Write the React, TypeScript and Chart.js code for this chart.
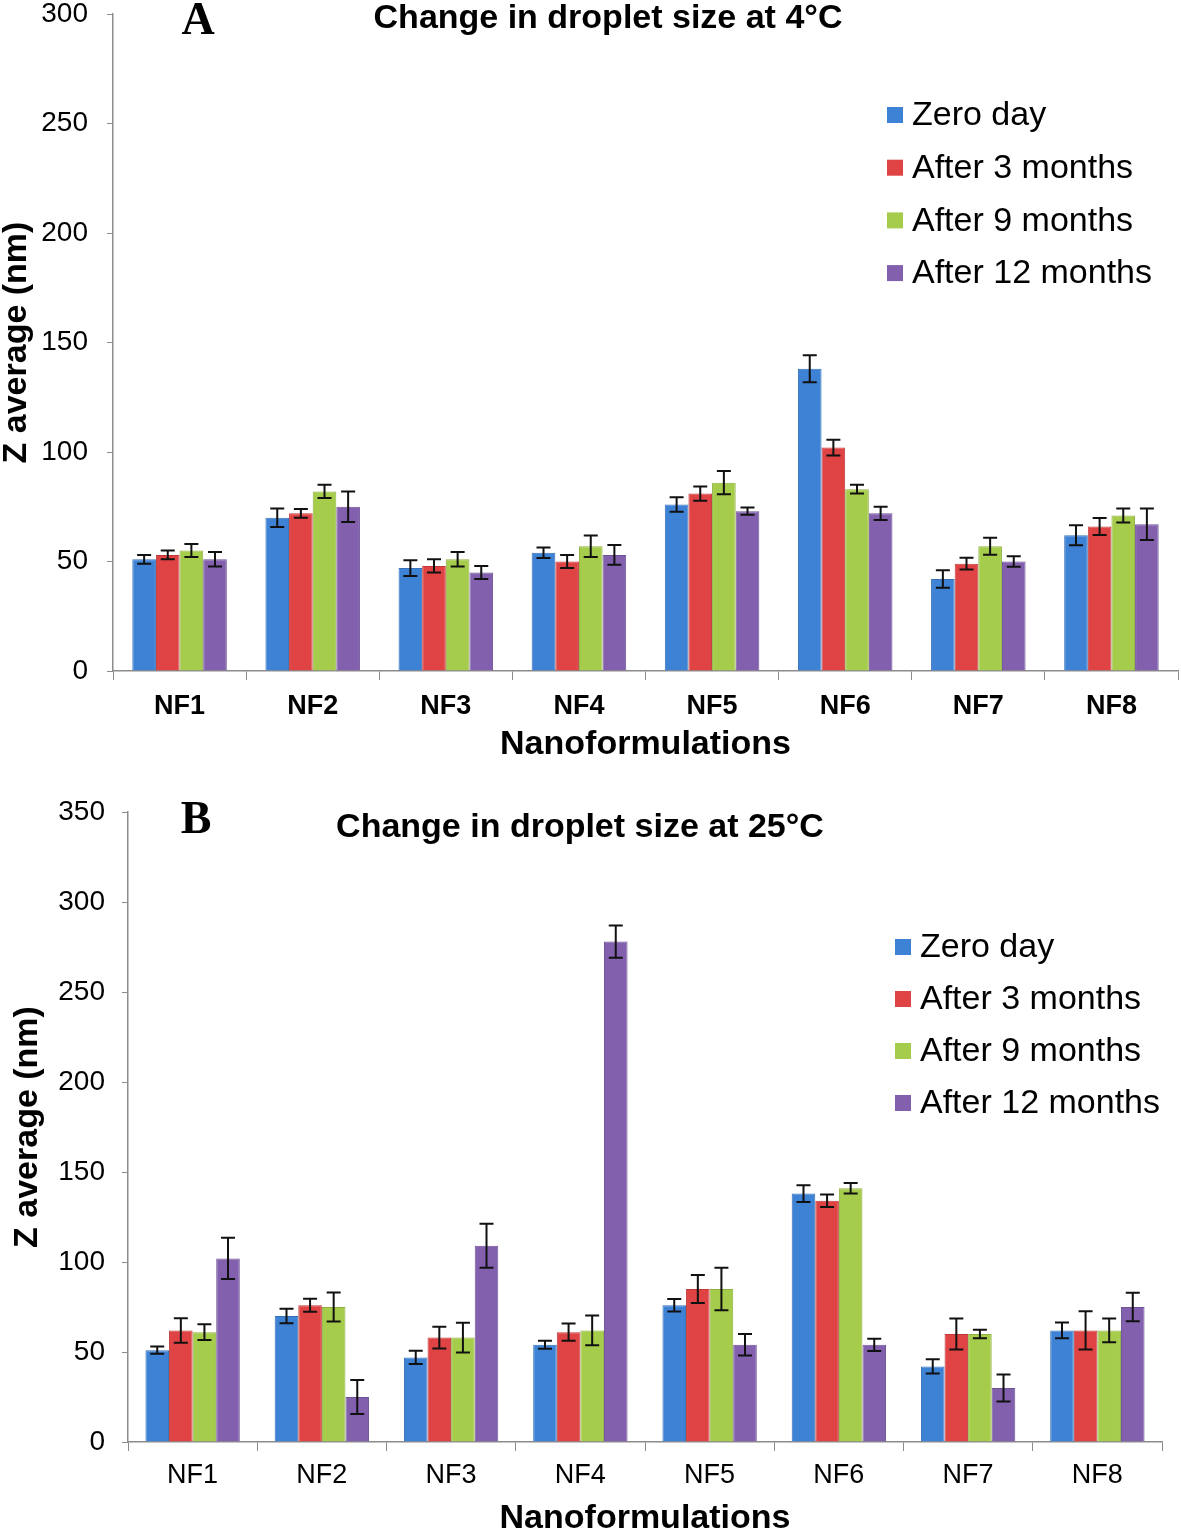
import React, { useEffect, useRef } from "react";
import { Chart, registerables } from "chart.js";

Chart.register(...registerables);

// ---------- data ----------
const categories = ["NF1", "NF2", "NF3", "NF4", "NF5", "NF6", "NF7", "NF8"];
const seriesLabels = ["Zero day", "After 3 months", "After 9 months", "After 12 months"];
const seriesColors = ["#3E82D6", "#E04343", "#A5CC4A", "#8260AE"];
const seriesBorders = ["#3570B8", "#C03A3A", "#8FB040", "#6E5296"];

// Panel A: 4 °C
const zeroDayA = [51, 70, 47, 54, 76, 138, 42, 62];
const month3A = [53, 72, 48, 50, 81, 102, 49, 66];
const month9A = [55, 82, 51, 57, 86, 83, 57, 71];
const month12A = [51, 75, 45, 53, 73, 72, 50, 67];
const zeroDayAErr = [2, 4.2, 3.6, 2.4, 3.3, 6.2, 4, 4.6];
const month3AErr = [2, 2, 3, 3, 3.3, 3.6, 2.7, 3.9];
const month9AErr = [3, 3, 3.3, 4.9, 5.3, 2, 3.9, 3.2];
const month12AErr = [3.3, 7, 3, 4.5, 1.7, 3, 2.4, 7.2];
const yMaxA = 300;

// Panel B: 25 °C
const zeroDayB = [51, 70, 47, 54, 76, 138, 42, 62];
const month3B = [62, 76, 58, 61, 85, 134, 60, 62];
const month9B = [61, 75, 58, 62, 85, 141, 60, 62];
const month12B = [102, 25, 109, 278, 54, 54, 30, 75];
const zeroDayBErr = [2, 4, 3.7, 2.2, 3.5, 4.7, 4, 4.4];
const month3BErr = [6.8, 3.6, 6, 4.8, 7.8, 3.5, 8.6, 10.6];
const month9BErr = [4.4, 8, 8.3, 8.3, 11.8, 2.9, 2.3, 6.6];
const month12BErr = [11.5, 9.4, 12.2, 9, 6, 3.4, 7.5, 7.9];
const yMaxB = 350;

const yStep = 50;
const titleA = "Change in droplet size at 4°C";
const titleB = "Change in droplet size at 25°C";
const yTitle = "Z average (nm)";
const xTitle = "Nanoformulations";

const SANS = "'Liberation Sans', Arial, sans-serif";
const SERIF = "'Liberation Serif', 'Times New Roman', serif";
const AXIS_GRAY = "#8c8c8c";

// ---------- plugin: error bars, title, panel letter, legend ----------
const decorPlugin = {
  id: "decor",
  afterDatasetsDraw(chart: any) {
    const ctx = chart.ctx;
    const yScale = chart.scales.y;
    ctx.save();
    ctx.strokeStyle = "#111";
    ctx.lineWidth = 2;
    chart.data.datasets.forEach((ds: any, i: number) => {
      const meta = chart.getDatasetMeta(i);
      meta.data.forEach((bar: any, j: number) => {
        const v = ds.data[j];
        const e = ds.errors[j];
        const x = bar.x;
        const yt = yScale.getPixelForValue(v + e);
        const yb = yScale.getPixelForValue(v - e);
        const cap = 7;
        ctx.beginPath();
        ctx.moveTo(x, yt);
        ctx.lineTo(x, yb);
        ctx.moveTo(x - cap, yt);
        ctx.lineTo(x + cap, yt);
        ctx.moveTo(x - cap, yb);
        ctx.lineTo(x + cap, yb);
        ctx.stroke();
      });
    });
    ctx.restore();
  },
  afterDraw(chart: any, _args: any, opts: any) {
    const ctx = chart.ctx;
    ctx.save();
    // title
    ctx.fillStyle = "#000";
    ctx.textAlign = "center";
    ctx.textBaseline = "middle";
    ctx.font = `bold 34px ${SANS}`;
    ctx.fillText(opts.title, opts.titleX, opts.titleY);
    // panel letter
    ctx.font = `bold 46px ${SERIF}`;
    ctx.fillText(opts.letter, opts.letterX, opts.letterY);
    // legend
    ctx.textAlign = "left";
    ctx.font = `34px ${SANS}`;
    chart.data.datasets.forEach((ds: any, i: number) => {
      const cy = opts.legendY + i * opts.legendGap;
      ctx.fillStyle = ds.backgroundColor;
      ctx.fillRect(opts.legendX, cy - 8, 16, 16);
      ctx.fillStyle = "#000";
      ctx.fillText(ds.label, opts.legendX + 25, cy + 1);
    });
    ctx.restore();
  },
};

function buildDatasets(values: number[][], errors: number[][], catPct: number) {
  return values.map((vals, i) => ({
    label: seriesLabels[i],
    data: vals,
    errors: errors[i],
    backgroundColor: seriesColors[i],
    borderColor: seriesBorders[i],
    borderWidth: 1,
    barPercentage: 1,
    categoryPercentage: catPct,
  }));
}

type PanelProps = {
  top: number;
  height: number;
  values: number[][];
  errors: number[][];
  yMax: number;
  catPct: number;
  axisLeft: number;
  padRight: number;
  padTop: number;
  xAxisHeight: number;
  yTickPad: number;
  yTitlePad: number;
  xTickPad: number;
  xTickBold: boolean;
  xTitlePadBottom: number;
  decor: any;
};

function Panel(p: PanelProps) {
  const ref = useRef<HTMLCanvasElement | null>(null);
  useEffect(() => {
    if (!ref.current) return;
    const chart = new Chart(ref.current, {
      type: "bar",
      data: {
        labels: categories,
        datasets: buildDatasets(p.values, p.errors, p.catPct) as any,
      },
      options: {
        animation: false,
        responsive: false,
        devicePixelRatio: 1,
        layout: { padding: { left: 0, right: p.padRight, top: p.padTop, bottom: 0 } },
        plugins: {
          legend: { display: false },
          tooltip: { enabled: false },
          title: { display: false },
          decor: p.decor,
        } as any,
        scales: {
          x: {
            offset: true,
            grid: {
              offset: true,
              drawOnChartArea: false,
              drawTicks: true,
              tickLength: 9,
              color: AXIS_GRAY,
            },
            border: { color: AXIS_GRAY, width: 1.5 },
            ticks: {
              color: "#000",
              padding: p.xTickPad,
              font: { family: SANS, size: 27, weight: p.xTickBold ? "bold" : "normal" },
              maxRotation: 0,
            },
            title: {
              display: true,
              text: xTitle,
              color: "#000",
              font: { family: SANS, size: 34, weight: "bold", lineHeight: 1 },
              padding: { top: 0, bottom: p.xTitlePadBottom },
            },
            afterFit: (scale: any) => {
              scale.height = p.xAxisHeight;
              scale.paddingLeft = 0;
              scale.paddingRight = 0;
            },
          },
          y: {
            min: 0,
            max: p.yMax,
            ticks: {
              stepSize: yStep,
              color: "#000",
              padding: p.yTickPad,
              font: { family: SANS, size: 28, lineHeight: 1 },
            },
            grid: {
              drawOnChartArea: false,
              drawTicks: true,
              tickLength: 6,
              color: AXIS_GRAY,
            },
            border: { color: AXIS_GRAY, width: 1.5 },
            title: {
              display: true,
              text: yTitle,
              color: "#000",
              font: { family: SANS, size: 34, weight: "bold", lineHeight: 1 },
              padding: { top: p.yTitlePad, bottom: 0 },
            },
            afterFit: (scale: any) => {
              scale.width = p.axisLeft;
              scale.paddingTop = 0;
              scale.paddingBottom = 0;
            },
          },
        },
      },
      plugins: [decorPlugin as any],
    });
    return () => chart.destroy();
  }, []);
  return (
    <canvas
      ref={ref}
      width={1181}
      height={p.height}
      style={{ position: "absolute", left: 0, top: p.top, width: 1181, height: p.height, display: "block" }}
    />
  );
}

export default function App() {
  return (
    <div style={{ position: "absolute", left: 0, top: 0, width: 1181, height: 1536, background: "#fff", overflow: "hidden" }}>
      <Panel
        top={0}
        height={770}
        values={[zeroDayA, month3A, month9A, month12A]}
        errors={[zeroDayAErr, month3AErr, month9AErr, month12AErr]}
        yMax={yMaxA}
        catPct={0.71}
        axisLeft={113}
        padRight={3}
        padTop={14}
        xAxisHeight={99}
        yTickPad={19}
        yTitlePad={0}
        xTickPad={10}
        xTickBold={true}
        xTitlePadBottom={8}
        decor={{
          title: titleA,
          titleX: 608,
          titleY: 19,
          letter: "A",
          letterX: 198,
          letterY: 22,
          legendX: 887,
          legendY: 115,
          legendGap: 52.7,
        }}
      />
      <Panel
        top={770}
        height={766}
        values={[zeroDayB, month3B, month9B, month12B]}
        errors={[zeroDayBErr, month3BErr, month9BErr, month12BErr]}
        yMax={yMaxB}
        catPct={0.73}
        axisLeft={128}
        padRight={19}
        padTop={42}
        xAxisHeight={94}
        yTickPad={17}
        yTitlePad={11}
        xTickPad={8}
        xTickBold={false}
        xTitlePadBottom={0}
        decor={{
          title: titleB,
          titleX: 580,
          titleY: 58,
          letter: "B",
          letterX: 196,
          letterY: 51,
          legendX: 895,
          legendY: 177,
          legendGap: 52,
        }}
      />
    </div>
  );
}
